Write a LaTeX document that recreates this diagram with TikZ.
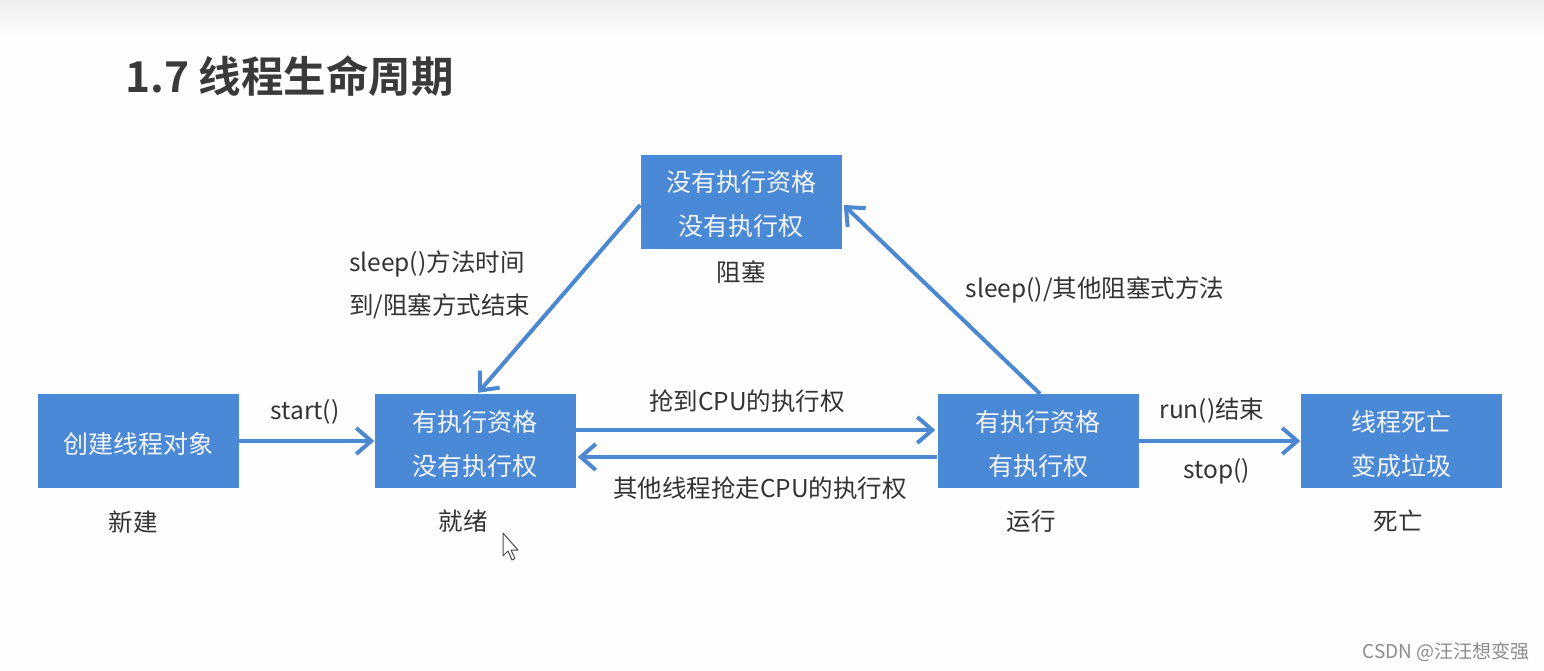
\documentclass[tikz,border=0pt]{standalone}
\usepackage{fontspec}
\setmainfont{Noto Sans CJK SC}[BoldFont={Noto Sans CJK SC Bold}]
\usetikzlibrary{arrows.meta,calc}
\definecolor{boxblue}{HTML}{4A89D6}
\definecolor{arrblue}{HTML}{4C88D2}
\definecolor{txt}{HTML}{333333}
\definecolor{ttl}{HTML}{3A3A3A}
\begin{document}
\begin{tikzpicture}[x=1pt,y=-1pt,
  statebox/.style={fill=boxblue,draw=none,minimum width=201pt,minimum height=94pt,inner sep=0pt},
  boxtxt/.style={text=white!96!black,align=center,inner sep=0pt,font=\fontsize{25}{44}\selectfont},
  lbl/.style={text=txt,font=\fontsize{24.5}{42}\selectfont,inner sep=0pt},
  conn/.style={draw=arrblue,line width=4pt,-{Straight Barb[length=15pt,width=26pt,line width=4pt]}}]
\useasboundingbox (0,0) rectangle (1544,671);
\fill[white!99!gray] (0,0) rectangle (1544,671);
\shade[top color=black!7,bottom color=white] (0,0) rectangle (1544,40);
\node[text=ttl,font=\fontsize{42.5}{50}\selectfont\bfseries,anchor=west,inner sep=0pt] (title) at (125,76) {1.7 线程生命周期};
% boxes
\node[statebox] (n1) at (138,441) {};
\node[statebox] (n2) at (475,441) {};
\node[statebox] (n3) at (1038,441) {};
\node[statebox] (n5) at (1401,441) {};
\node[statebox,minimum height=93pt] (n4) at (741,202) {};
\node[boxtxt] (t1) at ($(n1)+(0,3)$) {创建线程对象};
\node[boxtxt] (t2) at ($(n2)+(0,3)$) {有执行资格\\没有执行权};
\node[boxtxt] (t3) at ($(n3)+(0,3)$) {有执行资格\\有执行权};
\node[boxtxt] (t5) at ($(n5)+(0,3)$) {线程死亡\\变成垃圾};
\node[boxtxt] (t4) at ($(n4)+(0,2)$) {没有执行资格\\没有执行权};
% state labels
\node[lbl] (l1) at (133,522) {新建};
\node[lbl] (l2) at (463,521) {就绪};
\node[lbl] (l3) at (1031,521) {运行};
\node[lbl] (l5) at (1398,521) {死亡};
\node[lbl] (l4) at (741,272) {阻塞};
% connectors
\draw[conn] (n1.east) -- (n2.west);
\draw[conn] ($(n2.east)+(0,-11)$) -- ($(n3.west)+(-2,-11)$);
\draw[conn] ($(n3.west)+(0,16)$) -- ($(n2.east)+(2,16)$);
\draw[conn] (n3.east) -- (n5.west);
\draw[conn] ($(n3.north)+(2,0)$) -- ($(n4.east)+(2,3)$);
\draw[conn] ($(n4.west)+(0,3)$) -- ($(n2.north)+(3,-1)$);
% connector labels
\node[lbl] (s1) at (305,412) {start()};
\node[lbl] (s2) at (747,401) {抢到CPU的执行权};
\node[lbl] (s3) at (760,488) {其他线程抢走CPU的执行权};
\node[lbl] (s4) at (1212,411) {run()结束};
\node[lbl] (s5) at (1217,471) {stop()};
\node[lbl] (s6) at (1095,290) {sleep()/其他阻塞式方法};
\node[lbl,anchor=west] (s7a) at (349,264) {sleep()方法时间};
\node[lbl,anchor=west] (s7b) at (349,306) {到/阻塞方式结束};
% cursor
\draw[fill=white,draw=black!70,line width=1pt,line join=round]
  (503,533) -- (503,556) -- (508,551) -- (512,560) -- (515,558.5) -- (511,550) -- (518,550) -- cycle;
% watermark
\node[text=black!45,font=\fontsize{19}{21}\selectfont,anchor=east,inner sep=0pt] (wm) at (1530,652) {CSDN @汪汪想变强};
\end{tikzpicture}
\end{document}
